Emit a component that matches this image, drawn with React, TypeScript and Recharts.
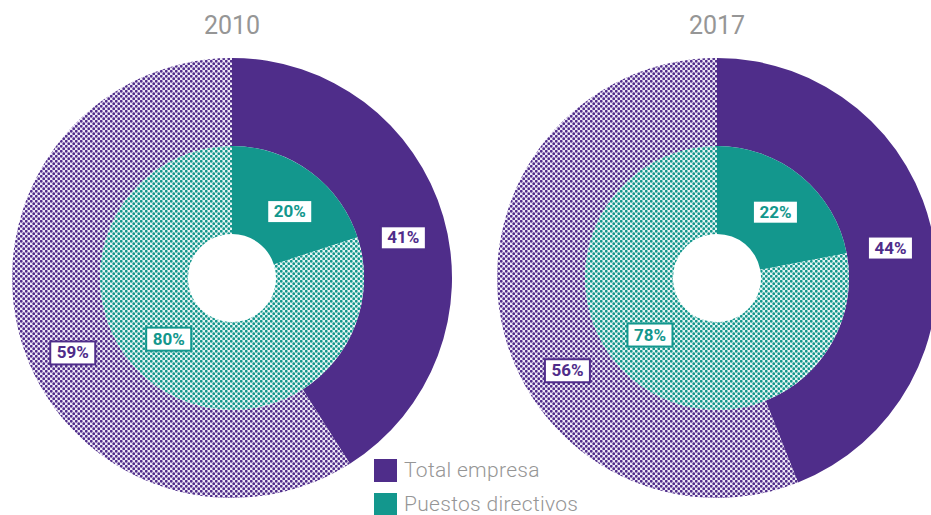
import React from 'react';
import { PieChart, Pie, Cell, Legend } from 'recharts';

// ---- Data ----
const years = ['2010', '2017'];
const seriesNames = ['Total empresa', 'Puestos directivos'];
const totalEmpresaShare = [41, 44];
const totalEmpresaRest = [59, 56];
const directivosShare = [20, 22];
const directivosRest = [80, 78];

// ---- Style / layout constants ----
const PURPLE = '#4f2d8a';
const TEAL = '#13978d';
const GRAY = '#969696';
const W = 931;
const H = 515;
const centers = [
  { cx: 232, cy: 278 },
  { cx: 717, cy: 278 },
];
const OUTER = { inner: 132, outer: 220 };
const INNER = { inner: 44, outer: 132 };
// small angular nudges for label placement (degrees) [solid, patterned]
const outerNudge = [
  [-3, 9],
  [-1, 21],
];
const innerNudge = [
  [-5, -10],
  [-2, -10],
];

const RAD = Math.PI / 180;

const makeLabel = (color: string, nudges: number[]) => (props: any) => {
  const { cx, cy, midAngle, innerRadius, outerRadius, value, index } = props;
  const r = (innerRadius + outerRadius) / 2;
  const a = (midAngle + (nudges[index] || 0)) * RAD;
  const x = cx + r * Math.cos(-a);
  const y = cy + r * Math.sin(-a);
  const bw = 45;
  const bh = 23;
  return (
    <g>
      <rect x={x - bw / 2} y={y - bh / 2} width={bw} height={bh} fill="#fff" stroke={color} strokeWidth={2} />
      <text
        x={x}
        y={y + 1}
        textAnchor="middle"
        dominantBaseline="middle"
        fill={color}
        fontFamily="Roboto, 'DejaVu Sans', sans-serif"
        fontWeight={700}
        fontSize={17}
      >
        {`${value}%`}
      </text>
    </g>
  );
};

const LegendContent = () => (
  <div style={{ fontFamily: 'Roboto, sans-serif', fontWeight: 300, fontSize: 21, color: GRAY }}>
    {seriesNames.map((n, i) => (
      <div key={n} style={{ display: 'flex', alignItems: 'center', height: 22, marginBottom: i === 0 ? 12 : 0 }}>
        <div style={{ width: 23, height: 23, background: i === 0 ? PURPLE : TEAL, marginRight: 7, flex: 'none' }} />
        <span style={{ lineHeight: '20px', whiteSpace: 'nowrap', letterSpacing: 0.3 }}>{n}</span>
      </div>
    ))}
  </div>
);

export default function App() {
  return (
    <div style={{ position: 'absolute', left: 0, top: 0, width: W, height: H, overflow: 'hidden', background: '#fff' }}>
      <PieChart width={W} height={H} margin={{ top: 0, right: 0, bottom: 0, left: 0 }}>
        <defs>
          <pattern id="patPurple" patternUnits="userSpaceOnUse" width={5} height={5}>
            <rect width={5} height={5} fill="#eee8f6" />
            <circle cx={1.25} cy={1.25} r={1.4} fill={PURPLE} />
            <circle cx={3.75} cy={3.75} r={1.4} fill={PURPLE} />
          </pattern>
          <pattern id="patTeal" patternUnits="userSpaceOnUse" width={5} height={5}>
            <rect width={5} height={5} fill="#e6f5f3" />
            <circle cx={1.25} cy={1.25} r={1.4} fill={TEAL} />
            <circle cx={3.75} cy={3.75} r={1.4} fill={TEAL} />
          </pattern>
        </defs>
        {years.map((yr, i) => (
          <text
            key={'t' + yr}
            x={centers[i].cx}
            y={27}
            textAnchor="middle"
            dominantBaseline="middle"
            fill={GRAY}
            fontFamily="Roboto, sans-serif"
            fontSize={25}
          >
            {yr}
          </text>
        ))}
        {years.map((yr, i) => (
          <Pie
            key={'o' + yr}
            data={[
              { name: seriesNames[0], value: totalEmpresaShare[i] },
              { name: 'resto', value: totalEmpresaRest[i] },
            ]}
            dataKey="value"
            cx={centers[i].cx}
            cy={centers[i].cy}
            innerRadius={OUTER.inner}
            outerRadius={OUTER.outer}
            startAngle={90}
            endAngle={-270}
            stroke="none"
            isAnimationActive={false}
            labelLine={false}
            label={makeLabel(PURPLE, outerNudge[i])}
          >
            <Cell fill={PURPLE} />
            <Cell fill="url(#patPurple)" />
          </Pie>
        ))}
        {years.map((yr, i) => (
          <Pie
            key={'i' + yr}
            data={[
              { name: seriesNames[1], value: directivosShare[i] },
              { name: 'resto', value: directivosRest[i] },
            ]}
            dataKey="value"
            cx={centers[i].cx}
            cy={centers[i].cy}
            innerRadius={INNER.inner}
            outerRadius={INNER.outer}
            startAngle={90}
            endAngle={-270}
            stroke="none"
            isAnimationActive={false}
            labelLine={false}
            label={makeLabel(TEAL, innerNudge[i])}
          >
            <Cell fill={TEAL} />
            <Cell fill="url(#patTeal)" />
          </Pie>
        ))}
        <Legend
          content={<LegendContent />}
          wrapperStyle={{ position: 'absolute', left: 374, top: 459, width: 260, bottom: 'auto' }}
        />
      </PieChart>
    </div>
  );
}
